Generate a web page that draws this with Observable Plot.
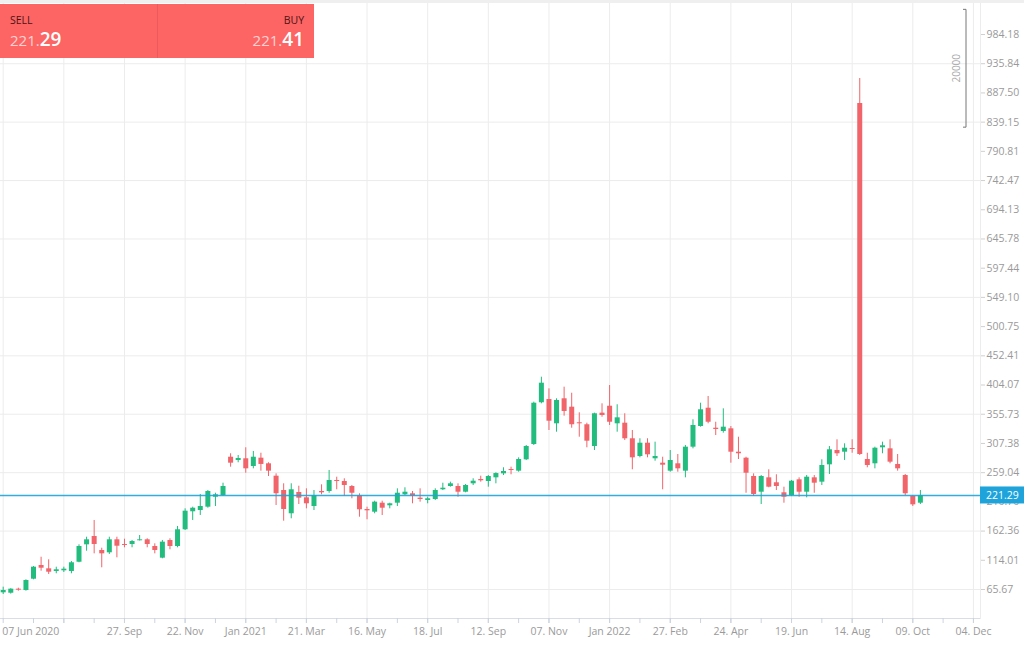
<!DOCTYPE html>
<html><head><meta charset="utf-8">
<script src="https://cdn.jsdelivr.net/npm/d3@7"></script>
<script src="https://cdn.jsdelivr.net/npm/@observablehq/plot@0.6"></script>
<style>
html,body{margin:0;padding:0;background:#fff;width:1024px;height:652px;overflow:hidden;font-family:"Open Sans",sans-serif;}
#wrap{position:relative;width:1024px;height:652px;overflow:hidden;}
#chart{position:absolute;left:0;top:0;}
#topline{position:absolute;left:0;top:0;width:1024px;height:3px;background:#efefef;}
#trade{position:absolute;left:0;top:4px;width:314px;height:54px;background:#fd6565;display:flex;}
#trade .half{flex:1;padding:9px 10px 0 10px;box-sizing:border-box;}
#trade .half.l{border-right:1px solid #ec5b5b;}
#trade .half.r{text-align:right;}
#trade .lab{font-size:10.5px;color:#4a1414;line-height:14px;}
#trade .px{line-height:22px;margin-top:1px;}
#trade .px .a{font-size:15px;color:#ffd2d2;}
#trade .px .b{font-size:19px;color:#fff;font-weight:600;}
</style></head>
<body><div id="wrap"><div id="topline"></div><div id="chart"></div>
<div id="trade">
 <div class="half l"><div class="lab">SELL</div><div class="px"><span class="a" id="sa"></span><span class="b" id="sb"></span></div></div>
 <div class="half r"><div class="lab">BUY</div><div class="px"><span class="a" id="ba"></span><span class="b" id="bb"></span></div></div>
</div></div>
<script>
// Weekly candles (index = week number from 07 Jun 2020)
const opens  = [60.2,59.5,66.2,64.0,82.7,105.4,99.9,95.5,96.6,95.5,110.8,139.6,153.4,130.2,126.4,147.9,140.1,140.1,146.3,147.9,136.8,117.5,146.8,136.8,164.5,194.3,196.4,201.9,218.4,221.2,
284.6,279.2,282.0,269.2,283.0,273.7,253.2,229.5,191.0,226.2,217.4,203.0,227.9,227.9,246.1,244.4,236.1,221.2,198.1,193.6,208.5,204.2,208.5,222.4,224.1,216.8,213.0,214.6,230.7,236.1,
236.1,226.7,240.6,247.7,244.4,250.5,257.1,264.3,261.5,280.3,305.6,374.7,380.1,339.9,381.3,367.4,341.6,338.3,302.3,357.5,369.0,339.9,340.9,315.1,285.8,307.8,282.0,274.7,261.5,273.7,
261.5,301.2,335.4,365.7,332.6,327.2,331.6,292.9,283.0,252.7,226.7,250.5,242.3,225.7,221.2,247.2,226.7,250.5,243.3,272.0,295.7,292.9,299.0,870.0,280.8,273.7,300.2,298.5,272.6,254.3,219.6,208.5];
const highs  = [69.5,67.0,67.8,81.7,103.7,119.1,114.8,102.6,102.6,112.0,139.6,152.2,179.9,134.0,152.2,152.2,148.9,146.8,155.0,149.6,141.3,146.8,149.6,170.0,199.2,201.9,222.9,229.5,225.0,241.6,
290.3,287.4,300.2,294.1,291.2,275.4,257.1,240.6,240.6,236.6,232.3,229.5,238.9,262.6,251.5,248.9,237.8,224.1,201.9,211.8,211.8,208.5,232.3,234.0,227.9,232.3,218.4,232.3,241.6,243.3,
240.6,239.4,248.9,253.2,254.3,258.8,267.1,268.1,283.6,304.0,375.7,417.0,397.8,381.3,400.5,390.5,358.1,340.9,357.5,373.0,403.3,371.4,356.5,328.8,315.1,315.1,309.5,284.6,295.7,289.1,
304.0,346.5,374.0,385.1,342.5,364.7,335.4,317.7,284.6,257.1,254.3,263.8,255.5,235.0,246.1,250.5,254.3,254.3,280.3,302.3,313.4,306.8,313.4,911.4,291.2,301.2,309.5,313.4,289.1,256.0,221.2,229.5];
const lows   = [57.4,58.0,62.9,62.9,81.7,96.0,90.5,91.7,93.8,91.7,109.9,129.0,124.7,101.6,123.6,118.1,134.7,134.7,146.0,134.7,124.7,116.5,131.4,134.7,163.3,179.9,188.2,200.2,203.0,219.6,
268.1,275.4,258.1,265.4,261.5,252.7,204.7,178.7,182.7,206.3,199.2,196.4,222.4,225.0,230.7,219.6,215.8,185.3,181.0,191.0,188.1,199.2,203.0,221.2,207.5,210.2,207.5,213.0,229.5,235.0,
218.4,225.7,237.8,243.3,235.0,240.6,254.3,255.5,259.8,279.2,304.0,373.0,328.8,326.0,352.5,332.6,317.7,300.2,295.7,350.8,337.1,326.0,312.3,263.8,283.6,283.6,278.0,230.7,259.8,259.8,
250.5,298.5,334.3,339.9,320.5,324.4,274.7,280.8,225.0,219.6,206.3,234.0,229.5,208.5,219.6,218.4,217.4,225.0,237.8,256.0,285.8,279.2,291.2,287.4,267.1,265.4,290.3,273.7,261.5,221.2,203.0,206.3];
const closes = [64.0,66.2,64.5,80.6,102.6,100.9,94.3,98.3,99.3,109.9,136.8,147.9,140.1,124.7,147.9,137.3,138.5,145.1,147.9,140.1,130.2,144.0,136.8,164.5,195.3,200.2,203.0,227.9,222.4,236.1,
274.7,282.5,265.4,284.6,272.6,261.5,224.1,198.1,230.7,216.8,207.5,221.2,225.7,246.1,244.4,237.8,225.0,197.6,195.9,210.2,200.2,207.5,225.0,226.7,220.1,214.6,215.8,229.5,233.3,240.6,
226.7,237.8,244.9,245.6,252.7,257.6,261.0,262.6,280.8,302.3,374.0,407.1,344.2,378.5,360.3,338.3,339.9,311.1,356.5,353.6,342.5,349.8,315.1,283.6,307.8,288.6,285.8,271.4,279.2,265.4,
301.2,337.1,363.1,342.5,330.5,334.3,292.9,290.3,258.1,222.9,252.7,235.0,236.1,218.4,244.9,226.7,251.5,241.6,270.9,296.9,290.3,299.5,297.4,289.1,270.9,299.5,303.5,276.4,265.4,224.1,205.8,221.29];

const yTicks = [65.67,114.01,162.36,210.70,259.04,307.38,355.73,404.07,452.41,500.75,549.10,597.44,645.78,694.13,742.47,790.81,839.15,887.50,935.84,984.18];
const xTickWeeks = [0,8,16,24,32,40,48,56,64,72,80,88,96,104,112,120,128];
const xTickLabels = ["07 Jun 2020","","27. Sep","22. Nov","Jan 2021","21. Mar","16. May","18. Jul","12. Sep","07. Nov","Jan 2022","27. Feb","24. Apr","19. Jun","14. Aug","09. Oct","04. Dec"];
const sellPrice = 221.29, buyPrice = 221.41;
const volumeLabel = "20000";

const GREEN = "#22bc7e", RED = "#f0646a", BLUE = "#1ea3db";
const candles = opens.map((o, i) => ({i, open: o, high: highs[i], low: lows[i], close: closes[i], up: closes[i] >= o}));
const lastClose = closes[closes.length - 1];
const labelOf = new Map(xTickWeeks.map((w, j) => [w, xTickLabels[j]]));
const minorWeeks = d3.range(0, 129, 4);
const gridYTicks = yTicks.filter((d, j) => j % 2 === 0);

const W = 1024, H = 652, mR = 44, mT = 3, mB = 34;
const pxPerWeek = 7.58, x0 = 2.7;
const plotW = W - mR;

const chart = Plot.plot({
  width: W, height: H,
  marginLeft: 0, marginRight: mR, marginTop: mT, marginBottom: mB,
  style: {fontFamily: "'Open Sans', sans-serif", background: "transparent"},
  x: {type: "linear", domain: [-x0 / pxPerWeek, (plotW - x0) / pxPerWeek], axis: null, label: null},
  y: {domain: [17.67, 1035.5], axis: null, label: null},
  marks: [
    Plot.gridX(xTickWeeks, {stroke: "#ececec", strokeOpacity: 1}),
    Plot.gridY(gridYTicks, {stroke: "#ececec", strokeOpacity: 1}),
    Plot.frame({anchor: "bottom", stroke: "#d8dde6"}),
    Plot.frame({anchor: "right", stroke: "#ececec"}),
    Plot.axisX(minorWeeks, {anchor: "bottom", tickSize: 5, stroke: "#ccd3de", text: null, label: null}),
    Plot.axisX(xTickWeeks.slice(1), {anchor: "bottom", tickSize: 5, tickPadding: 4, stroke: "#ccd3de", label: null,
      tickFormat: d => labelOf.get(d), fontSize: 10.5, fill: "#9a9a9a"}),
    Plot.axisX([0], {anchor: "bottom", tickSize: 0, tickPadding: 9, textAnchor: "start", dx: -1, label: null,
      tickFormat: d => labelOf.get(d), fontSize: 10.5, fill: "#9a9a9a"}),
    Plot.axisY(yTicks, {anchor: "right", tickSize: 4, tickPadding: 2, stroke: "#d0d0d0", label: null,
      tickFormat: d => d.toFixed(2), fontSize: 10.5, fill: "#9a9a9a"}),
    Plot.ruleX(candles, {x: "i", y1: "low", y2: "high", stroke: d => d.up ? GREEN : RED, strokeWidth: 1}),
    Plot.ruleX(candles, {x: "i", y1: "open", y2: "close", stroke: d => d.up ? GREEN : RED, strokeWidth: 5}),
    Plot.ruleY([lastClose], {stroke: BLUE, strokeWidth: 1.5, strokeOpacity: 0.9})
  ]
});
document.getElementById("chart").appendChild(chart);

// price label box on the right axis
const svg = d3.select(chart);
const yS = chart.scale("y");
const yp = yS.apply(lastClose);
const g = svg.append("g");
g.append("rect").attr("x", plotW).attr("y", yp - 8.5).attr("width", W - plotW).attr("height", 17).attr("fill", BLUE);
g.append("text").attr("x", plotW + 6).attr("y", yp).attr("dy", "0.35em").attr("fill", "#fff")
  .attr("text-anchor", "start")
  .attr("font-size", 10.5).attr("font-family", "'Open Sans', sans-serif").text(lastClose.toFixed(2));

// volume scale bracket
const vb = svg.append("g").attr("stroke", "#777").attr("fill", "none");
const bx = plotW - 14, bt = yS.apply(1025), bb = yS.apply(830);
vb.append("path").attr("d", `M${bx - 3},${bt}H${bx}V${bb}H${bx - 3}`);
svg.append("text").attr("transform", `translate(${bx - 6},${(bt + bb) / 2}) rotate(-90)`)
  .attr("text-anchor", "middle").attr("font-size", 10).attr("fill", "#aaa")
  .attr("font-family", "'Open Sans', sans-serif").text(volumeLabel);

// sell / buy box
function split(p){ const s = p.toFixed(2); return [s.slice(0, s.length - 2), s.slice(-2)]; }
const [sa, sb] = split(sellPrice), [ba, bb2] = split(buyPrice);
document.getElementById("sa").textContent = sa;
document.getElementById("sb").textContent = sb;
document.getElementById("ba").textContent = ba;
document.getElementById("bb").textContent = bb2;
</script>
</body></html>
